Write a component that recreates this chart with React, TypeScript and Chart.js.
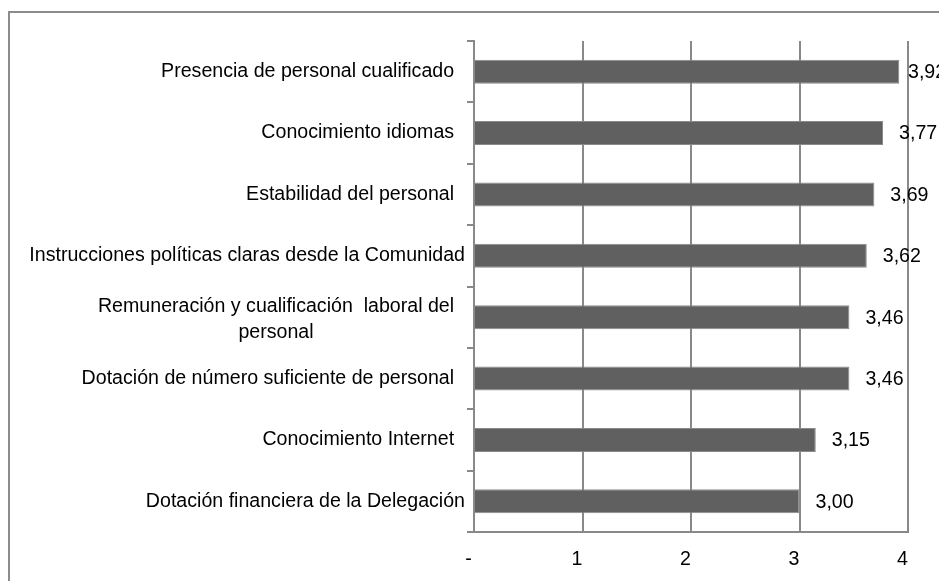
import React, { useEffect, useRef } from 'react';
import { Chart, registerables } from 'chart.js';

Chart.register(...registerables);

const categories: (string | string[])[] = [
  'Presencia de personal cualificado  ',
  'Conocimiento idiomas  ',
  'Estabilidad del personal  ',
  'Instrucciones políticas claras desde la Comunidad',
  ['Remuneración y cualificación  laboral del  ', 'personal'],
  'Dotación de número suficiente de personal  ',
  'Conocimiento Internet  ',
  'Dotación financiera de la Delegación',
];
const values = [3.92, 3.77, 3.69, 3.62, 3.46, 3.46, 3.15, 3.0];
const xTickLabels = ['-', '1', '2', '3', '4'];

const FONT_FAMILY = "'Liberation Sans', Arial, sans-serif";
const FONT_SIZE = 19.6;
const GRID = '#898989';
const BAR = '#606060';

const frameAndLabels = {
  id: 'frameAndLabels',
  beforeDraw(chart: any) {
    const ctx = chart.ctx;
    ctx.save();
    ctx.fillStyle = '#ffffff';
    ctx.fillRect(0, 0, chart.width, chart.height);
    ctx.strokeStyle = '#8c8c8c';
    ctx.lineWidth = 2;
    ctx.strokeRect(9, 12, 2000, 2000);
    ctx.restore();
  },
  afterDraw(chart: any) {
    const ctx = chart.ctx;
    const yScale = chart.scales.y;
    const area = chart.chartArea;
    ctx.save();
    ctx.font = `${FONT_SIZE}px ${FONT_FAMILY}`;
    ctx.fillStyle = '#000000';
    ctx.textBaseline = 'middle';
    const rightEdge = area.left - 9;
    const lh = 26;
    categories.forEach((lab, i) => {
      const lines = Array.isArray(lab) ? lab : [lab];
      const cy = yScale.getPixelForValue(i);
      let maxTrim = 0;
      let trailing = 0;
      lines.forEach((l) => {
        const full = ctx.measureText(l).width;
        const tw = ctx.measureText(l.trimEnd()).width;
        if (tw > maxTrim) {
          maxTrim = tw;
          trailing = full - tw;
        }
      });
      const R = rightEdge - trailing;
      const shift = lines.length > 1 ? 2 : 0;
      lines.forEach((l, k) => {
        const y = cy + shift + (k - (lines.length - 1) / 2) * lh;
        if (lines.length === 1) {
          ctx.textAlign = 'right';
          ctx.fillText(l.trimEnd(), R, y);
        } else {
          ctx.textAlign = 'center';
          ctx.fillText(l.trimEnd(), R - maxTrim / 2, y);
        }
      });
    });
    // value labels
    const meta = chart.getDatasetMeta(0);
    ctx.textAlign = 'left';
    meta.data.forEach((bar: any, i: number) => {
      const txt = values[i].toFixed(2).replace('.', ',');
      const x = Math.min(bar.x + 16, area.right);
      ctx.fillText(txt, x, bar.y + 1);
    });
    ctx.restore();
  },
};

export default function App() {
  const ref = useRef<HTMLCanvasElement | null>(null);
  useEffect(() => {
    if (!ref.current) return;
    const font = { family: FONT_FAMILY, size: FONT_SIZE };
    const chart = new Chart(ref.current, {
      type: 'bar',
      data: {
        labels: categories as any,
        datasets: [
          {
            data: values,
            backgroundColor: BAR,
            borderColor: '#8a8a8a',
            borderWidth: 1,
            categoryPercentage: 1,
            barPercentage: 0.39,
          },
        ],
      },
      options: {
        indexAxis: 'y',
        responsive: false,
        animation: false,
        layout: { padding: { top: 41, right: 31, left: 0, bottom: 0 } },
        plugins: { legend: { display: false }, tooltip: { enabled: false } },
        scales: {
          x: {
            min: 0,
            max: 4,
            ticks: {
              stepSize: 1,
              color: '#000',
              font,
              padding: 16,
              callback: (v: any) => (xTickLabels[Number(v)] ?? String(v)) + '  ',
            },
            grid: { color: GRID, lineWidth: 2, drawTicks: false },
            border: { display: true, color: GRID, width: 2 },
            afterFit: (s: any) => {
              s.height = 49;
            },
          },
          y: {
            ticks: { color: 'rgba(0,0,0,0)', font },
            grid: {
              drawOnChartArea: false,
              drawTicks: true,
              tickLength: 7,
              color: GRID,
              lineWidth: 2,
              offset: true,
            },
            border: { display: true, color: GRID, width: 2 },
            afterFit: (s: any) => {
              s.width = 474;
            },
          },
        },
      },
      plugins: [frameAndLabels],
    } as any);
    return () => chart.destroy();
  }, []);
  return (
    <div style={{ position: 'absolute', left: 0, top: 0, width: 939, height: 581 }}>
      <canvas ref={ref} width={939} height={581} />
    </div>
  );
}
